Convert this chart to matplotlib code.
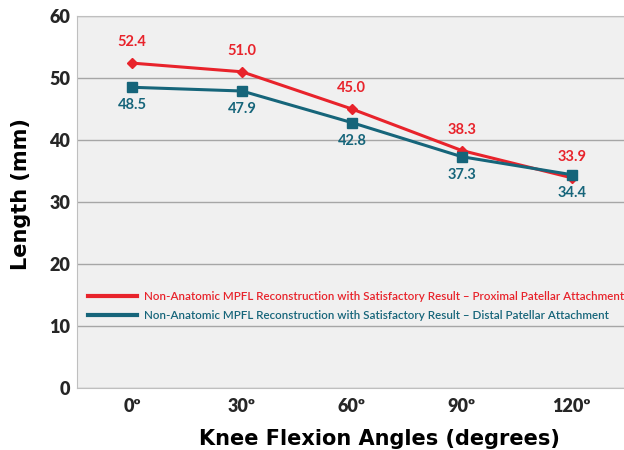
"""Knee flexion angle vs MPFL graft length, two patellar attachment points."""

import matplotlib

matplotlib.use("Agg")
import matplotlib.pyplot as plt

angles = ["0º", "30º", "60º", "90º", "120º"]
proximal = [52.4, 51.0, 45.0, 38.3, 33.9]
distal = [48.5, 47.9, 42.8, 37.3, 34.4]

RED = "#e8232b"
TEAL = "#16657a"
TICK_COLOR = "#262626"

fig = plt.figure(figsize=(6.24, 4.5), dpi=100)
ax = fig.add_axes([0.1234, 0.1378, 0.881, 0.8267])
ax.set_facecolor("#f0f0f0")

xs = range(len(angles))
ax.plot(xs, proximal, "-D", color=RED, lw=2.2, ms=5,
        label="Non-Anatomic MPFL Reconstruction with Satisfactory Result – Proximal Patellar Attachment")
ax.plot(xs, distal, "-s", color=TEAL, lw=2.2, ms=7,
        label="Non-Anatomic MPFL Reconstruction with Satisfactory Result – Distal Patellar Attachment")

for x, v in zip(xs, proximal):
    ax.annotate(f"{v:.1f}", (x, v), textcoords="offset points", xytext=(0, 10),
                ha="center", va="bottom", color=RED, fontsize=10.5,
                fontweight="bold", family="Lato")
for x, v in zip(xs, distal):
    ax.annotate(f"{v:.1f}", (x, v), textcoords="offset points", xytext=(0, -8),
                ha="center", va="top", color=TEAL, fontsize=10.5,
                fontweight="bold", family="Lato")

ax.set_xlim(-0.5, 4.5)
ax.set_ylim(0, 60)
ax.set_yticks(range(0, 61, 10))
ax.set_xticks(list(xs))
ax.set_xticklabels(angles)
ax.grid(axis="y", color="#a6a6a6", lw=1)
ax.set_axisbelow(True)
for s in ax.spines.values():
    s.set_color("#bfbfbf")
ax.tick_params(length=0, labelcolor=TICK_COLOR)
ax.tick_params(axis="y", pad=5)
ax.tick_params(axis="x", pad=7)
for lab in ax.get_yticklabels() + ax.get_xticklabels():
    lab.set_family("Lato")
    lab.set_fontweight("heavy")
    lab.set_fontsize(13)

ax.set_xlabel("Knee Flexion Angles (degrees)", family="DejaVu Sans",
              fontweight="bold", fontsize=15, color="black")
ax.set_ylabel("Length (mm)", family="DejaVu Sans", fontweight="bold",
              fontsize=15, color="black")
ax.xaxis.set_label_coords(0.551, -0.11)
ax.yaxis.set_label_coords(-0.083, 0.52)

leg = ax.legend(loc="upper left", bbox_to_anchor=(0.0, 0.29), frameon=False,
                handlelength=4.2, handletextpad=0.6, labelspacing=0.75,
                prop={"family": "Lato", "size": 8.4, "weight": "semibold"},
                labelcolor="linecolor")
for h in leg.legend_handles:
    h.set_marker("")
    h.set_linewidth(3)

fig.savefig("out.png", dpi=100)
